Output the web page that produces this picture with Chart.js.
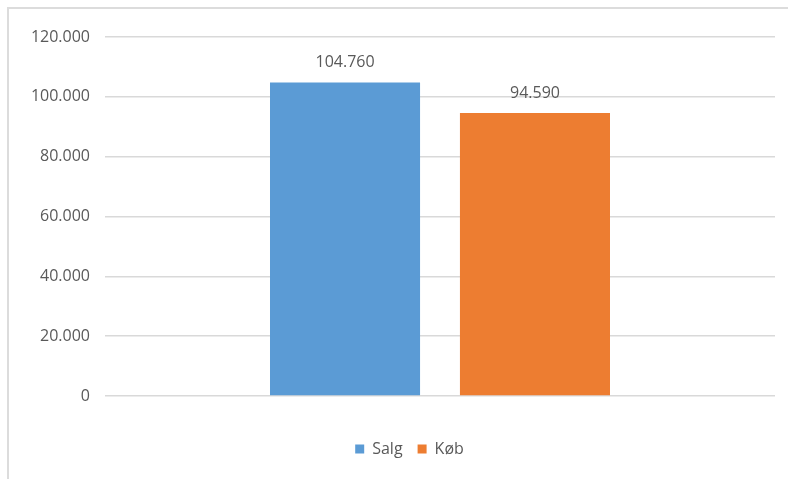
<!DOCTYPE html>
<html>
<head>
<meta charset="utf-8">
<script src="https://cdn.jsdelivr.net/npm/chart.js@4/dist/chart.umd.min.js"></script>
<style>
  html, body { margin: 0; padding: 0; background: #ffffff; }
  #wrap { position: relative; width: 788px; height: 479px; overflow: hidden; }
  #frame { position: absolute; left: 7px; top: 7px; width: 800px; height: 500px;
           border-top: 2px solid #dcdcdc; border-left: 2px solid #dcdcdc; box-sizing: border-box; }
  canvas { position: absolute; left: 0; top: 0; }
</style>
</head>
<body>
<div id="wrap">
  <div id="frame"></div>
  <canvas id="c" width="788" height="479"></canvas>
</div>
<script>
const categories = [""];
const seriesNames = ["Salg", "Køb"];
const salgValues = [104760];
const kobValues = [94590];
const yTicks = [0, 20000, 40000, 60000, 80000, 100000, 120000];
const colors = ["#5b9bd5", "#ed7d31"];

const fmt = v => v.toLocaleString("da-DK");
const FONT = "'Open Sans', 'Liberation Sans', sans-serif";
const TEXT = "#595959";

const labelPlugin = {
  id: "barLabels",
  afterDatasetsDraw(chart) {
    const ctx = chart.ctx;
    ctx.save();
    ctx.font = "16px " + FONT;
    ctx.fillStyle = TEXT;
    ctx.textAlign = "center";
    ctx.textBaseline = "bottom";
    chart.data.datasets.forEach((ds, i) => {
      chart.getDatasetMeta(i).data.forEach((el, j) => {
        ctx.fillText(fmt(ds.data[j]), el.x, el.y - 12);
      });
    });
    ctx.restore();
  }
};

// centre the legend under the full frame rather than under the canvas minus the axis
const legendShift = {
  id: "legendShift",
  afterLayout(chart) {
    if (chart.legend) {
      chart.legend.left += 22;
      chart.legend.right += 22;
    }
  }
};

new Chart(document.getElementById("c"), {
  type: "bar",
  data: {
    labels: categories,
    datasets: [
      { label: seriesNames[0], data: salgValues, backgroundColor: colors[0] },
      { label: seriesNames[1], data: kobValues, backgroundColor: colors[1] }
    ]
  },
  options: {
    responsive: false,
    animation: false,
    devicePixelRatio: 1,
    categoryPercentage: 0.567,
    barPercentage: 0.79,
    layout: { padding: { left: 0, right: 13, top: 37, bottom: 12 } },
    plugins: {
      tooltip: { enabled: false },
      legend: {
        position: "bottom",
        labels: {
          font: { size: 16, family: FONT },
          color: TEXT,
          boxWidth: 9,
          boxHeight: 9,
          padding: 15
        }
      }
    },
    scales: {
      x: {
        afterFit(scale) { scale.height = 30; },
        ticks: { display: false },
        grid: { display: false },
        border: { display: false }
      },
      y: {
        min: 0,
        max: 120000,
        afterBuildTicks(scale) { scale.ticks = yTicks.map(v => ({ value: v })); },
        afterFit(scale) { scale.width = 105; },
        ticks: {
          color: TEXT,
          font: { size: 16, family: FONT },
          padding: 15,
          callback: v => fmt(v)
        },
        grid: { color: "#d9d9d9", lineWidth: 1.5, drawTicks: false },
        border: { display: false }
      }
    }
  },
  plugins: [labelPlugin, legendShift]
});
</script>
</body>
</html>
